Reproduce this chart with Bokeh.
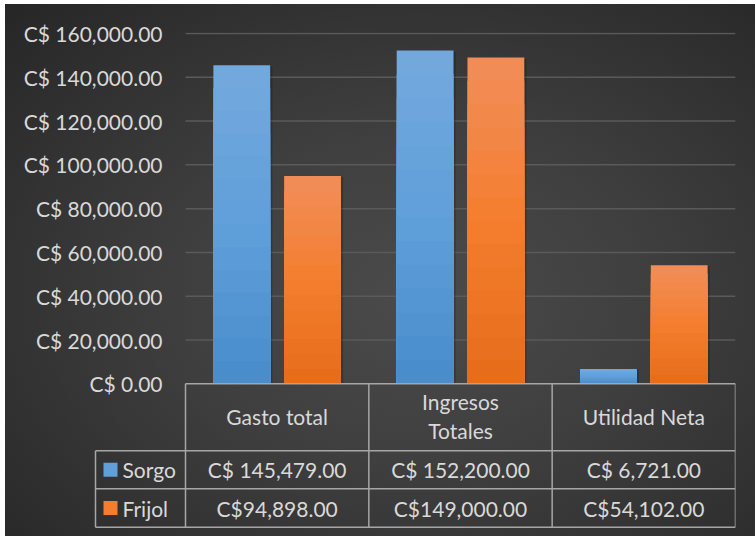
from bokeh.plotting import figure
from bokeh.models import Range1d, FixedTicker
from bokeh.transform import dodge
from bokeh.core.properties import value
from bokeh.embed import file_html
from bokeh.resources import INLINE

# ---------------- data ----------------
categories = ["Gasto total", "Ingresos Totales", "Utilidad Neta"]
header_labels = ["Gasto total", "Ingresos\nTotales", "Utilidad Neta"]
series = ["Sorgo", "Frijol"]
sorgo = [145479, 152200, 6721]
frijol = [94898, 149000, 54102]
sorgo_labels = ["C$ 145,479.00", "C$ 152,200.00", "C$ 6,721.00"]
frijol_labels = ["C$94,898.00", "C$149,000.00", "C$54,102.00"]
y_ticks = [0, 20000, 40000, 60000, 80000, 100000, 120000, 140000, 160000]
y_tick_labels = ["C$ 0.00", "C$ 20,000.00", "C$ 40,000.00", "C$ 60,000.00",
                 "C$ 80,000.00", "C$ 100,000.00", "C$ 120,000.00",
                 "C$ 140,000.00", "C$ 160,000.00"]

# ---------------- style ----------------
FONT = "Lato"
FS = "21px"
TXT = "#d9d9d9"
LINE = "#a6a6a6"
BLUE_STOPS = [(0.0, (0x74, 0xa9, 0xdd)), (0.5, (0x60, 0x9f, 0xda)), (1.0, (0x48, 0x8c, 0xcc))]
ORANGE_STOPS = [(0.0, (0xf1, 0x8d, 0x5a)), (0.5, (0xf4, 0x7e, 0x2e)), (1.0, (0xe6, 0x6c, 0x1a))]
NSL = 14


def grad(stops, t):
    for (t0, c0), (t1, c1) in zip(stops[:-1], stops[1:]):
        if t <= t1:
            f = (t - t0) / (t1 - t0)
            c = [round(a + (b - a) * f) for a, b in zip(c0, c1)]
            return "#%02x%02x%02x" % tuple(c)
    return "#%02x%02x%02x" % stops[-1][1]


# layout (pixels, page coordinates)
ML, MT = 5, 4                      # css offset of the chart box
W, H = 750, 532
PLOT_LEFT, PLOT_RIGHT = 185, 735   # plot area (category columns)
F_LEFT, F_TOP, F_BOTTOM = 93, 32, 529   # drawing frame (includes legend column)
LEG_LEFT = 95                      # left edge of the table's legend column
LABEL_RIGHT = 162                  # right edge of the value-axis labels
ZERO = 383.3                       # page y of value 0
PX_PER_UNIT = 43.79 / 20000

n = len(categories)
cw = (PLOT_RIGHT - PLOT_LEFT) / n
y_end = (ZERO - F_TOP) / PX_PER_UNIT
y_start = -(F_BOTTOM - ZERO) / PX_PER_UNIT
x_start = -(PLOT_LEFT - F_LEFT) / cw

# x: category i occupies [i, i+1]
p = figure(x_range=Range1d(x_start, n), y_range=Range1d(y_start, y_end),
           width=W, height=H,
           min_border_left=F_LEFT - ML, min_border_right=ML + W - PLOT_RIGHT,
           min_border_top=F_TOP - MT, min_border_bottom=MT + H - F_BOTTOM,
           x_axis_location=None, output_backend="svg", toolbar_location=None,
           styles={"background": "radial-gradient(ellipse farthest-corner at 55% 55%, "
                                 "#4b4b4b 0%, #3f3f3f 40%, #262626 100%)",
                   "margin-left": f"{ML}px", "margin-top": f"{MT}px"})
p.border_fill_color = None
p.background_fill_color = None
p.outline_line_color = None
p.grid.visible = False

ax = p.yaxis[0]
ax.ticker = FixedTicker(ticks=y_ticks)
ax.major_label_overrides = {t: l for t, l in zip(y_ticks, y_tick_labels)}
ax.axis_line_color = None
ax.major_tick_line_color = None
ax.minor_tick_line_color = None
ax.major_tick_out = 0
ax.major_tick_in = 0
ax.major_label_standoff = F_LEFT - LABEL_RIGHT
ax.major_label_text_font = FONT
ax.major_label_text_font_size = FS
ax.major_label_text_color = TXT

# horizontal gridlines only across the category columns
grid_ticks = [t for t in y_ticks if t > 0]
p.segment(x0=[0] * len(grid_ticks), x1=[n] * len(grid_ticks), y0=grid_ticks, y1=grid_ticks,
          line_color="#5a5a5a", line_width=1.5)

# table y coordinate system: pixels below the zero line
p.extra_y_ranges = {"ty": Range1d(F_BOTTOM - ZERO, F_TOP - ZERO)}

cat_x = [i + 0.5 for i in range(n)]
BW = 0.31
OFF = 0.193
for vals, stops, off in [(sorgo, BLUE_STOPS, -OFF), (frijol, ORANGE_STOPS, OFF)]:
    p.vbar(x=dodge("x", off + 0.012), top="top", width=BW, bottom=0,
           source=dict(x=cat_x, top=[v * 0.995 for v in vals]),
           fill_color="black", fill_alpha=0.18, line_color=None)
    for k in range(NSL):
        frac = 1 - k / NSL
        col = grad(stops, (k + 0.5) / NSL)
        p.vbar(x=dodge("x", off), top="top", width=BW, bottom=0,
               source=dict(x=cat_x, top=[v * frac for v in vals]),
               fill_color=col, line_color=None)

# ---------------- data table ----------------
leg_left = -(PLOT_LEFT - LEG_LEFT) / cw
row_y = [0, 67, 105, 143.5]
x0 = [0, leg_left, leg_left, leg_left] + list(range(n + 1)) + [leg_left]
x1 = [n, n, n, n] + list(range(n + 1)) + [leg_left]
y0 = row_y + [0] * (n + 1) + [row_y[1]]
y1 = row_y + [row_y[-1]] * (n + 2)
p.segment(x0=x0, y0=y0, x1=x1, y1=y1, line_color=LINE, line_width=1.5, y_range_name="ty")

y_head = (row_y[0] + row_y[1]) / 2
y_r1 = (row_y[1] + row_y[2]) / 2
y_r2 = (row_y[2] + row_y[3]) / 2
common = dict(text_align="center", text_baseline="middle", text_font=value(FONT),
              text_font_size=FS, text_color=TXT, y_range_name="ty")
p.text(x=cat_x, y=[y_head - 1] * n, text=header_labels, text_line_height=1.15, **common)
p.text(x=cat_x, y=[y_r1] * n, text=sorgo_labels, **common)
p.text(x=cat_x, y=[y_r2] * n, text=frijol_labels, **common)

# legend keys
sq_x = -(PLOT_LEFT - 110) / cw
p.scatter(x=[sq_x, sq_x], y=[y_r1, y_r2], marker="square", size=14,
          fill_color=[grad(BLUE_STOPS, 0.5), grad(ORANGE_STOPS, 0.5)], line_color=None,
          y_range_name="ty")
p.text(x=[-(PLOT_LEFT - 122) / cw] * 2, y=[y_r1, y_r2], text=series, text_align="left",
       text_baseline="middle", text_font=value(FONT), text_font_size=FS, text_color=TXT,
       y_range_name="ty")

open("out.html", "w").write(file_html(p, INLINE))
